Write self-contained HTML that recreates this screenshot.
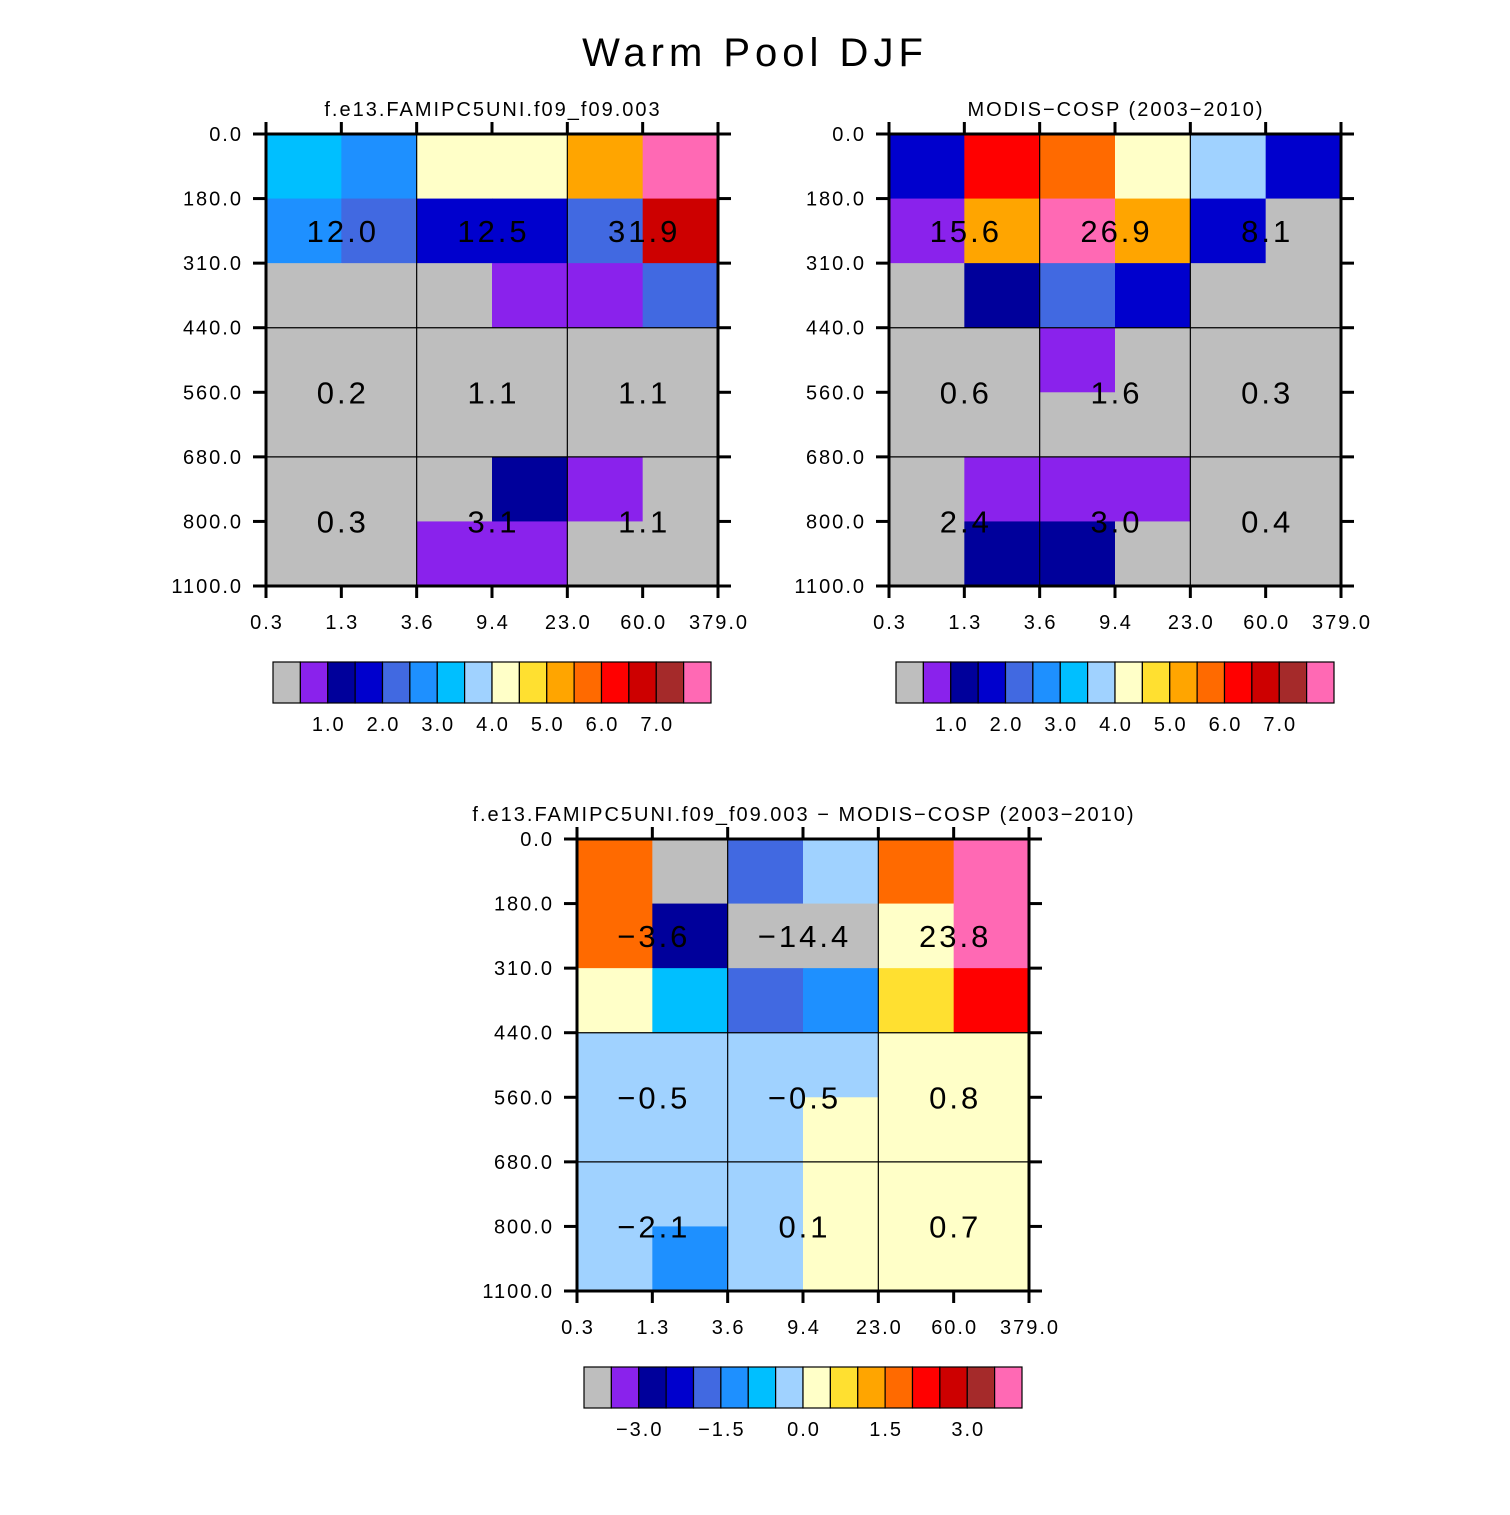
<!DOCTYPE html>
<html><head><meta charset="utf-8"><style>
body{margin:0;background:#fff}
svg text{font-family:"Liberation Sans",sans-serif;fill:#000}
</style></head><body>
<svg id="chart" xmlns="http://www.w3.org/2000/svg" width="1510" height="1510" viewBox="0 0 1510 1510">
<text x="755" y="66" font-size="40" text-anchor="middle" letter-spacing="5">Warm Pool DJF</text>
</svg>
<script>
const palette=["#BEBEBE","#8A22EC","#00009B","#0000CD","#4169E1","#1E90FF","#00BFFF","#A0D2FF","#FFFFC8","#FFE030","#FFA500","#FF6A00","#FF0000","#CD0000","#A52A2A","#FF69B4"];
const xTicks=["0.3","1.3","3.6","9.4","23.0","60.0","379.0"];
const yTicks=["0.0","180.0","310.0","440.0","560.0","680.0","800.0","1100.0"];
const model=[[6,5,8,8,10,15],[5,4,3,3,4,13],[0,0,0,1,1,4],[0,0,0,0,0,0],[0,0,0,0,0,0],[0,0,0,2,1,0],[0,0,1,1,0,0]];
const modelVals=[["12.0","12.5","31.9"],["0.2","1.1","1.1"],["0.3","3.1","1.1"]];
const obs=[[3,12,11,8,7,3],[1,10,15,10,3,0],[0,2,4,3,0,0],[0,0,1,0,0,0],[0,0,0,0,0,0],[0,1,1,1,0,0],[0,2,2,0,0,0]];
const obsVals=[["15.6","26.9","8.1"],["0.6","1.6","0.3"],["2.4","3.0","0.4"]];
const diff=[[11,0,4,7,11,15],[11,2,0,0,8,15],[8,6,4,5,9,12],[7,7,7,7,8,8],[7,7,7,8,8,8],[7,7,7,8,8,8],[7,5,7,8,8,8]];
const diffVals=[["\u22123.6","\u221214.4","23.8"],["\u22120.5","\u22120.5","0.8"],["\u22122.1","0.1","0.7"]];
const cbLabelsAbs=["1.0","2.0","3.0","4.0","5.0","6.0","7.0"];
const cbPosAbs=[2,4,6,8,10,12,14];
const cbLabelsDiff=["\u22123.0","\u22121.5","0.0","1.5","3.0"];
const cbPosDiff=[2,5,8,11,14];

const svg=document.getElementById('chart');
const NS="http://www.w3.org/2000/svg";
function mk(tag,attrs,parent,txt){const e=document.createElementNS(NS,tag);for(const k in attrs)e.setAttribute(k,attrs[k]);if(txt!==undefined)e.textContent=txt;(parent||svg).appendChild(e);return e;}

function panel(name,x0,y0,title,grid,vals){
  const W=452,H=452;
  const g=mk('g',{});
  
  
  const xs=i=>x0+i*W/6, ys=j=>y0+j*H/7;
  grid.forEach((row,j)=>row.forEach((c,i)=>{
    const r=mk('rect',{x:xs(i),y:ys(j),width:W/6+0.5,height:H/7+0.5,fill:palette[c]},g);
    
    
  }));
  [2,4].forEach(i=>mk('line',{x1:xs(i),x2:xs(i),y1:y0,y2:y0+H,stroke:'#000','stroke-width':1.2},g));
  [3,5].forEach(j=>mk('line',{x1:x0,x2:x0+W,y1:ys(j),y2:ys(j),stroke:'#000','stroke-width':1.2},g));
  const gy=[ys(1.5),ys(4),ys(6)];
  vals.forEach((row,j)=>row.forEach((v,i)=>{
    const t=mk('text',{x:xs(2*i+1)+1.5,y:gy[j]+11,'font-size':31,'text-anchor':'middle','letter-spacing':3},g,v);
    
    
  }));
  mk('rect',{x:x0,y:y0,width:W,height:H,fill:'none',stroke:'#000','stroke-width':3},g);
  xTicks.forEach((t,i)=>{
    mk('line',{x1:xs(i),x2:xs(i),y1:y0,y2:y0-12,stroke:'#000','stroke-width':3},g);
    mk('line',{x1:xs(i),x2:xs(i),y1:y0+H,y2:y0+H+12,stroke:'#000','stroke-width':3},g);
    const tx=mk('text',{x:xs(i)+1,y:y0+H+43,'font-size':20,'text-anchor':'middle','letter-spacing':2},g,t);
    
    
  });
  yTicks.forEach((t,j)=>{
    mk('line',{x1:x0,x2:x0-13,y1:ys(j),y2:ys(j),stroke:'#000','stroke-width':3},g);
    mk('line',{x1:x0+W,x2:x0+W+13,y1:ys(j),y2:ys(j),stroke:'#000','stroke-width':3},g);
    const ty=mk('text',{x:x0-23,y:ys(j)+7,'font-size':20,'text-anchor':'end','letter-spacing':2},g,t);
    
    
  });
  const tt=mk('text',{x:x0+W/2+1,y:y0-18,'font-size':20,'text-anchor':'middle','letter-spacing':2},g,title);
  
  
}
function colorbar(name,x0,y0,labels,pos){
  const w=438/16,h=41;
  const g=mk('g',{});
  
  
  palette.forEach((c,i)=>mk('rect',{x:x0+i*w,y:y0,width:w,height:h,fill:c,stroke:'#000','stroke-width':1.2},g));
  labels.forEach((l,k)=>{
    const t=mk('text',{x:x0+pos[k]*w+1,y:y0+69,'font-size':20,'text-anchor':'middle','letter-spacing':2},g,l);
    
    
  });
}
panel('model-panel',266,134,'f.e13.FAMIPC5UNI.f09_f09.003',model,modelVals);
panel('obs-panel',889,134,'MODIS\u2212COSP (2003\u22122010)',obs,obsVals);
panel('diff-panel',577,839,'f.e13.FAMIPC5UNI.f09_f09.003 \u2212 MODIS\u2212COSP (2003\u22122010)',diff,diffVals);
colorbar('model-colorbar',273,662,cbLabelsAbs,cbPosAbs);
colorbar('obs-colorbar',896,662,cbLabelsAbs,cbPosAbs);
colorbar('diff-colorbar',584,1367,cbLabelsDiff,cbPosDiff);
</script>
</body></html>
